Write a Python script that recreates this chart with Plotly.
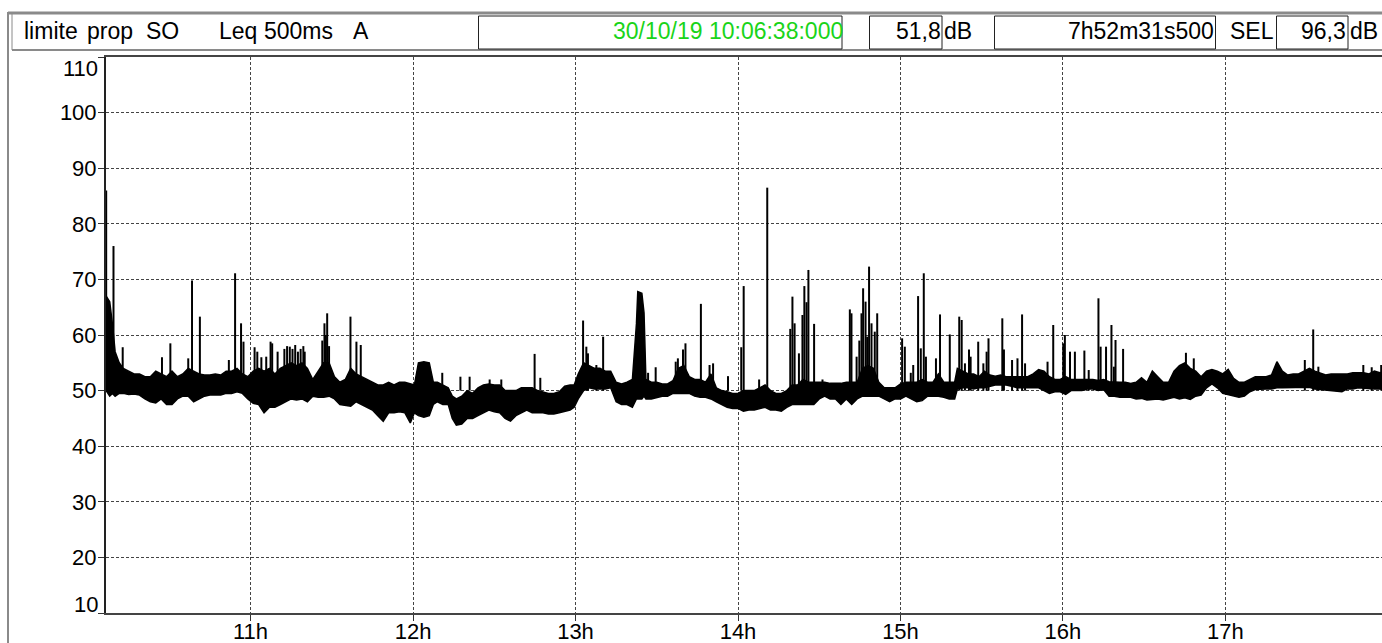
import plotly.graph_objects as go

# ---------------- data (time in minutes after 10:00, level in dB(A)) ----------------
START_MIN = 6 + 38 / 60          # 10:06:38
VIEW_END_MIN = 477.8             # right edge of the visible window

band_t = [6.7, 8.0, 9.0, 10.0, 11.5, 13.0, 15.0, 17.0, 19.0, 21.0, 23.0, 25.0, 27.0, 29.0, 31.0, 33.0,
          35.0, 37.0, 39.0, 41.0, 43.0, 45.0, 47.0, 49.0, 51.0, 53.0, 55.0, 57.0, 59.0, 61.0, 63.0, 65.0,
          67.0, 69.0, 71.0, 73.0, 75.0, 77.0, 79.0, 81.0, 83.0, 85.0, 87.0, 89.0, 91.0, 93.0, 95.0, 97.0,
          99.0, 101, 103, 105, 107, 109, 111, 113, 115, 117, 119, 120.5, 122, 124, 126, 127.5, 129, 131,
          133, 134.5, 136, 138, 140, 142, 144, 146, 148, 150, 152, 154, 156, 158, 160, 162, 164, 166, 168,
          170, 172, 174, 176, 178, 179.5, 181, 183, 185, 187, 189, 191, 193, 195, 197, 199, 201, 202.5,
          203, 204.5, 205.3, 206, 208, 210, 212, 214, 216, 218, 220, 222, 224, 226, 228, 230, 232, 234,
          236, 238, 240, 242, 244, 246, 248, 250, 252, 254, 256, 258, 260, 262, 264, 266, 268, 270, 272,
          274, 276, 278, 280, 282, 284, 286, 288, 290, 292, 294, 296, 298, 300, 302, 304, 306, 308, 310,
          312, 314, 316, 318, 320, 321, 323, 325, 327, 329, 331, 333, 335, 337, 339, 341, 343, 345, 347,
          349, 351, 353, 355, 357, 359, 361, 363, 365, 367, 369, 371, 373, 375, 377, 379, 381, 383, 385,
          387, 389, 391, 393, 395, 397, 399, 401, 403, 405, 407, 409, 411, 413, 415, 417, 419, 421, 423,
          425, 427, 429, 431, 433, 435, 437, 439, 441, 443, 445, 447, 449, 451, 453, 455, 457, 459, 461,
          463, 465, 467, 469, 471, 473, 475, 477, 479.5]
band_lo = [50, 49, 49.5, 49, 49.5, 49.5, 49.3, 49.4, 49.2, 48.5, 48, 47.8, 48.5, 47.5, 47.5, 48.5,
           49, 49, 48, 48.5, 49, 49.2, 49.2, 49.2, 49.5, 49.5, 49.8, 49.5, 48.5, 47.7, 47.5, 46,
           47, 47, 47.5, 48, 48.5, 48.3, 48.5, 48, 49, 48.8, 48.8, 49, 48.5, 47.5, 47.3, 47.2,
           48, 47.5, 47, 46.5, 45.5, 44.5, 46, 46, 46.2, 46, 44.2, 46, 45.5, 45.2, 45.5, 47.5, 48, 47.5,
           47.5, 45, 43.8, 44, 45, 45, 45.5, 46, 46.5, 46.2, 46, 45, 44.5, 45.5, 46, 46.5, 46, 46, 46,
           45.8, 45.8, 46, 46.2, 46.5, 47, 48.5, 50, 50.5, 50.3, 50.3, 50.3, 50.5, 48, 47.5, 47.5, 47, 48.5,
           48.5, 48.5, 49, 48.5, 48.5, 48.8, 49, 49, 49.5, 49.5, 49.5, 49.5, 49, 48.8, 48.8, 48.5, 48, 47.5,
           47, 46.8, 46.8, 46.3, 46.5, 46.5, 46.8, 47, 46.5, 46.5, 46.3, 47, 47.5, 47.5, 47.5, 47.5, 47.5, 48.5, 49,
           48.5, 48.5, 47.5, 48.5, 47.5, 48.5, 49, 49, 49, 49, 48.5, 48, 48.5, 48.5, 49, 48.5, 48, 48.2, 49,
           49, 49, 48.8, 48.5, 48.5, 50.3, 50.5, 50.5, 50.3, 50.5, 50.5, 50.8, 51, 51, 51, 50.8, 50.5, 50.5, 50.5,
           50.5, 50.5, 50, 49.5, 49.8, 49.8, 49.3, 50, 50, 50, 50.3, 50.3, 50, 50.2, 49, 49, 48.8, 48.8, 48.8,
           48.5, 48.6, 48.3, 48.4, 48.5, 48.3, 48.5, 48.8, 48.5, 48.7, 48.4, 49, 49.2, 50.5, 51.2, 50.5, 49.5, 49.3, 49,
           48.8, 49, 49.8, 50.2, 50.3, 50.3, 50.3, 50.5, 50.5, 50.5, 50.6, 50.6, 50.5, 50.6, 50.3, 50.2, 50.2, 50, 50,
           49.8, 50.3, 50.3, 50.5, 50.4, 50.3, 50.3, 50.3, 50.5]
band_hi = [67, 66, 62, 57, 55, 54, 53.5, 53, 53, 52.5, 52.5, 53.5, 53, 52.5, 53.5, 52.5,
           53, 54, 53.5, 53, 52.8, 52.8, 53, 52.8, 53.5, 53.5, 54, 53, 52.5, 53.5, 54, 53.5,
           54, 53, 54, 54.5, 55, 54.5, 55, 54, 52, 53.5, 55, 55, 52.5, 51.5, 52, 54,
           53, 52.5, 52, 51.5, 51, 51, 51.5, 51, 51.5, 51.5, 51.2, 51, 55, 55.2, 55, 51.5, 51.5, 51,
           50.5, 49, 48.5, 49, 50, 49.5, 50.5, 51, 51.2, 51, 51, 50, 50, 50, 50.5, 50.5, 50.5, 50, 49.8,
           49.5, 49.5, 49.8, 50.8, 51, 51, 53, 55, 54.5, 54, 54, 53.5, 53.5, 51.5, 51.2, 51.5, 52, 62,
           67.8, 67.5, 64, 52, 51.5, 51.5, 51.2, 51.2, 51.8, 54, 54.5, 52.5, 52, 52, 51.5, 53, 50.5, 50,
           49.8, 49.5, 49.5, 50, 50, 50, 50.5, 51, 50, 49.5, 49.5, 50, 51, 51, 52, 51.5, 51.5, 51.5, 51.5,
           51.3, 51.3, 51.3, 51.5, 51.5, 51.5, 54, 54.5, 54, 51.5, 50.5, 50.5, 50.5, 51.2, 51.5, 51.5, 51.5, 52, 51.5,
           51.5, 53, 51.5, 51.5, 51.5, 54, 53.5, 53, 53, 52.5, 53.5, 52.8, 52.6, 52.8, 52.5, 52.5, 52.5, 52.5, 52.5,
           53, 53.8, 53.5, 52.5, 52, 52, 52.5, 52, 52, 52, 52, 52, 51.8, 52, 51.6, 51.5, 51.5, 51.5, 51.3,
           51.5, 52.3, 51.5, 53.5, 52.5, 51.5, 51.5, 53.5, 54.5, 55, 54, 53.5, 52.5, 53.5, 53.8, 53.5, 53, 53.8, 52.2,
           51.5, 51.5, 52, 52.5, 52.5, 52.5, 52.8, 55.2, 53.5, 52.8, 53, 53, 53.5, 54, 53.5, 53.2, 52.8, 53, 53,
           53, 53, 53.2, 53.2, 53.2, 53, 53.5, 53.2, 53.5]

spike_t = [6.7, 9.4, 12.8, 27.3, 30.4, 37.0, 38.4, 41.3, 52.0, 54.3, 56.5, 57.4, 61.5, 62.5, 64.0, 65.8,
           67.4, 68.0, 70.0, 72.5, 73.5, 74.5, 75.5, 76.5, 77.5, 78.5, 79.5, 80.0, 86.5, 87.3, 87.8, 88.3,
           89.0, 96.9, 99.1, 100.7, 130.8, 137.5, 140.9, 148.3, 152.6, 164.9,
           167.0, 182.8, 184.0, 184.6, 187.7, 190.2, 206.8, 209.6, 217.0, 217.8, 219.7, 220.6, 226.3, 229.5,
           230.8, 236.3, 241.2, 242.1, 247.8, 250.8, 259.3, 260.1, 260.9, 262.5, 263.8, 264.5, 265.3, 266.0,
           268.1, 271.2, 281.3, 281.9, 283.8, 284.8, 285.6, 286.2, 287.1, 287.7, 288.4, 289.3, 290.5, 291.4,
           300.6, 301.6, 303.8, 304.7, 306.5, 307.5, 308.6, 309.4, 313.1, 314.6, 318.2, 321.7, 322.6, 323.8,
           325.3, 325.9, 328.7, 330.6, 331.8, 332.5, 337.6, 338.2, 341.2, 343.2, 344.9, 346.0, 354.3, 356.4,
           360.1, 360.7, 362.6, 364.4, 367.9, 369.5, 373.1, 373.9, 375.9, 377.9, 378.8, 379.4, 382.2, 405.4,
           408.3, 449.3, 452.4, 454.3, 470.9, 474.0, 477.5]
spike_db = [86, 76, 57.8, 56, 58.5, 55.8, 69.8, 63.3, 55.5, 71.1, 62.1, 58.8, 57.8, 57.0, 56.0, 56.1,
            58.8, 58.5, 57.0, 57.5, 58.0, 57.9, 57.5, 58.2, 57.0, 57.5, 58.0, 57.0, 59.0, 62.1, 60.0, 63.9,
            58.0, 63.3, 58.8, 58.2, 53.2, 52.5, 52.5, 52, 52, 56.6,
            52.3, 62.6, 57.9, 56.7, 54.6, 59.7, 53.2, 54.2, 55.2, 55.8, 57.4, 58.5, 65.6, 54.6,
            54.9, 52.6, 57.8, 68.8, 52, 86.5, 61.1, 66.9, 62.1, 56.7, 63.6, 68.8, 65.9, 71.7,
            62.0, 52, 64.6, 63.9, 56.1, 59.0, 63.9, 68.4, 66.0, 59.7, 72.3, 62.1, 60.6, 63.9,
            59.4, 57.9, 53.2, 54.6, 67.0, 57.6, 71.1, 56.1, 55.8, 63.7, 60.1, 63.3, 62.7, 54.9,
            57.4, 56.1, 58.8, 54.9, 57.0, 59.4, 63.0, 57.4, 55.5, 55.8, 63.7, 54.9, 55.2, 61.8,
            58.5, 60.0, 57.0, 57.0, 57.2, 53.7, 66.6, 57.9, 57.9, 61.8, 54.3, 59.1, 57.5, 56.8,
            55.8, 55.5, 61.0, 54.3, 54.6, 54.2, 54.6]
SPIKE_BASE = 50

y_tickvals = [10, 20, 30, 40, 50, 60, 70, 80, 90, 100, 110]
x_tick_hours = [11, 12, 13, 14, 15, 16, 17]
x_tick_labels = ["11h", "12h", "13h", "14h", "15h", "16h", "17h"]

title_words = ["limite", "prop", "SO", "Leq", "500ms", "A"]
start_stamp = "30/10/19 10:06:38:000"
leq_value = "51,8"
duration = "7h52m31s500"
sel_value = "96,3"
unit = "dB"

# ---------------- helpers ----------------
def to_h(m):
    return 10 + m / 60.0

FONT = "Arial, Liberation Sans, sans-serif"
W, H = 1382, 643
PL, PR, PT, PB = 106, 1382, 57, 613


def fx(xp):
    return (xp - PL) / (PR - PL)


def fy(yp):
    return (PB - yp) / (PB - PT)


fig = go.Figure()

bt = [to_h(m) for m in band_t]
fig.add_trace(go.Scatter(x=bt, y=band_lo, mode="lines", line=dict(color="black", width=1.5),
                         hoverinfo="skip"))
fig.add_trace(go.Scatter(x=bt, y=band_hi, mode="lines", line=dict(color="black", width=1.5),
                         fill="tonexty", fillcolor="black", hoverinfo="skip"))

sx, sy = [], []
for t, v in zip(spike_t, spike_db):
    sx += [to_h(t), to_h(t), None]
    sy += [SPIKE_BASE, v, None]
fig.add_trace(go.Scatter(x=sx, y=sy, mode="lines", line=dict(color="black", width=2),
                         hoverinfo="skip", connectgaps=False))

grid = dict(showgrid=True, gridcolor="#444", gridwidth=1, griddash="3px,2px")

fig.update_xaxes(range=[to_h(START_MIN), to_h(VIEW_END_MIN)], tickvals=x_tick_hours,
                 ticktext=x_tick_labels, ticks="outside", ticklen=6, tickcolor="#333", tickwidth=1,
                 showline=True, linecolor="#444", linewidth=2, mirror=True, zeroline=False,
                 ticklabelstandoff=-8, automargin=False,
                 tickfont=dict(family=FONT, size=22, color="black"), **grid)
fig.update_yaxes(range=[10, 110], tickvals=y_tickvals,
                 ticktext=["" if v in (10, 110) else str(v) for v in y_tickvals],
                 ticks="outside", ticklen=6, tickcolor="#333", tickwidth=1,
                 showline=True, linecolor="#222", linewidth=2, zeroline=False,
                 ticklabelstandoff=-3, automargin=False,
                 tickfont=dict(family=FONT, size=22, color="black"), **grid)

shapes = []
gray = "#8a8a8a"
# outer frame
shapes.append(dict(type="line", xref="paper", yref="paper", x0=fx(8), x1=fx(1382), y0=fy(13), y1=fy(13),
                   line=dict(color=gray, width=3)))
shapes.append(dict(type="line", xref="paper", yref="paper", x0=fx(8), x1=fx(8), y0=fy(12), y1=fy(643),
                   line=dict(color=gray, width=2)))
shapes.append(dict(type="line", xref="paper", yref="paper", x0=fx(12), x1=fx(12), y0=fy(13), y1=fy(50),
                   line=dict(color=gray, width=1)))
shapes.append(dict(type="line", xref="paper", yref="paper", x0=fx(12), x1=fx(1382), y0=fy(50), y1=fy(50),
                   line=dict(color=gray, width=2)))
# header boxes
for x0, x1 in [(478.5, 842), (869.5, 942), (994.5, 1215.5), (1276.5, 1348)]:
    shapes.append(dict(type="rect", xref="paper", yref="paper", x0=fx(x0), x1=fx(x1), y0=fy(16),
                       y1=fy(49), line=dict(color="#222", width=1), fillcolor="rgba(0,0,0,0)"))

ann = []


def text(s, xp, anchor, color="black", size=23, yp=31):
    ann.append(dict(text=s, x=fx(xp), y=fy(yp), xref="paper", yref="paper", xanchor=anchor,
                    yanchor="middle", showarrow=False, font=dict(family=FONT, size=size, color=color)))


for word, xp in zip(title_words, [22, 85, 144, 217, 262, 351]):
    text(word, xp, "left")
text(start_stamp, 845, "right", color="#19d419")
text(leq_value, 943, "right")
text(unit, 942, "left")
text(duration, 1216, "right")
text("SEL", 1228, "left")
text(sel_value, 1348, "right")
text(unit, 1348, "left")
# clamped end labels of the level axis
text(str(y_tickvals[-1]), 100, "right", size=22, yp=68)
text(str(y_tickvals[0]), 100, "right", size=22, yp=604)

fig.update_layout(width=W, height=H, margin=dict(l=PL, r=W - PR, t=PT, b=H - PB, pad=0),
                  paper_bgcolor="white", plot_bgcolor="white", showlegend=False,
                  shapes=shapes, annotations=ann)

fig.write_html("out.html", config={"displayModeBar": False},
               post_script="document.body.style.margin='0px';document.body.style.padding='0px';")
